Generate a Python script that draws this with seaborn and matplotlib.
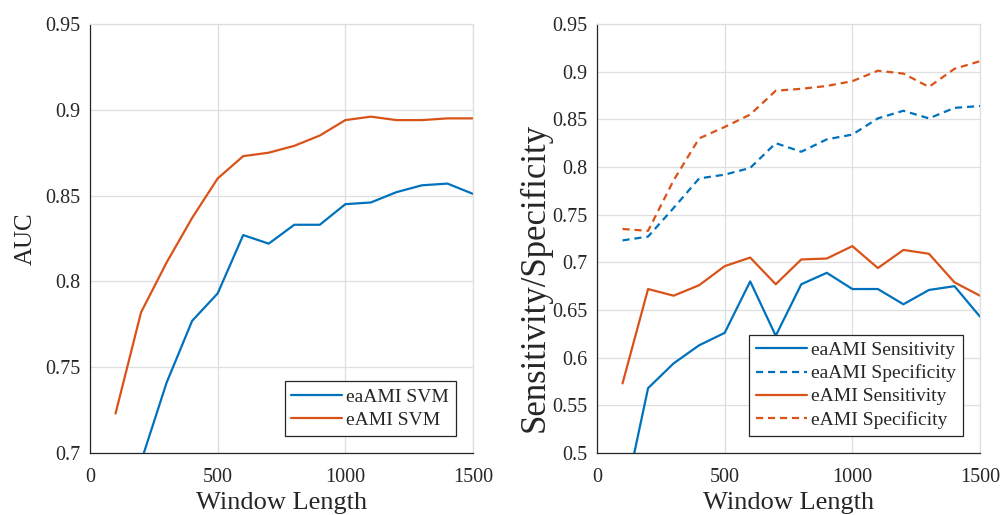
import matplotlib
matplotlib.use("Agg")
import matplotlib.pyplot as plt
import seaborn as sns
import pandas as pd

# ---------------- data ----------------
window = [100, 200, 300, 400, 500, 600, 700, 800, 900, 1000, 1100, 1200, 1300, 1400, 1500]

auc_eaami = [0.620, 0.695, 0.741, 0.777, 0.793, 0.827, 0.822, 0.833, 0.833, 0.845,
             0.846, 0.852, 0.856, 0.857, 0.851]
auc_eami = [0.723, 0.782, 0.811, 0.837, 0.860, 0.873, 0.875, 0.879, 0.885, 0.894,
            0.896, 0.894, 0.894, 0.895, 0.895]

sens_eaami = [0.442, 0.568, 0.594, 0.613, 0.626, 0.680, 0.623, 0.677, 0.689, 0.672,
              0.672, 0.656, 0.671, 0.675, 0.643]
spec_eaami = [0.723, 0.727, 0.757, 0.788, 0.792, 0.799, 0.825, 0.816, 0.829, 0.834,
              0.851, 0.859, 0.851, 0.862, 0.864]
sens_eami = [0.573, 0.672, 0.665, 0.676, 0.696, 0.705, 0.677, 0.703, 0.704, 0.717,
             0.694, 0.713, 0.709, 0.679, 0.665]
spec_eami = [0.735, 0.733, 0.786, 0.830, 0.842, 0.855, 0.880, 0.882, 0.885, 0.890,
             0.901, 0.898, 0.884, 0.903, 0.911]

left_labels = ["eaAMI SVM", "eAMI SVM"]
right_labels = ["eaAMI Sensitivity", "eaAMI Specificity", "eAMI Sensitivity", "eAMI Specificity"]

x_ticks = [0, 500, 1000, 1500]
x_tick_labels = ["0", "500", "1000", "1500"]
left_yticks = [0.7, 0.75, 0.8, 0.85, 0.9, 0.95]
left_ytick_labels = ["0.7", "0.75", "0.8", "0.85", "0.9", "0.95"]
right_yticks = [0.5, 0.55, 0.6, 0.65, 0.7, 0.75, 0.8, 0.85, 0.9, 0.95]
right_ytick_labels = ["0.5", "0.55", "0.6", "0.65", "0.7", "0.75", "0.8", "0.85", "0.9", "0.95"]

# ---------------- style ----------------
BLUE = "#0072BD"
ORANGE = "#D95319"
TXT = "#262626"

sns.set_theme(style="white")
plt.rcParams["font.family"] = ["Liberation Serif", "DejaVu Serif"]

df_left = pd.DataFrame({
    "Window": window * 2,
    "Value": auc_eaami + auc_eami,
    "Series": [left_labels[0]] * len(window) + [left_labels[1]] * len(window),
})
df_right = pd.DataFrame({
    "Window": window * 4,
    "Value": sens_eaami + spec_eaami + sens_eami + spec_eami,
    "Series": sum([[lab] * len(window) for lab in right_labels], []),
})

fig = plt.figure(figsize=(10.05, 5.15), dpi=100)
axL = fig.add_axes([90 / 1005, 62 / 515, 383 / 1005, 429 / 515])
axR = fig.add_axes([597 / 1005, 62 / 515, 383 / 1005, 429 / 515])

sns.lineplot(data=df_left, x="Window", y="Value", hue="Series", style="Series",
             palette={left_labels[0]: BLUE, left_labels[1]: ORANGE},
             dashes={left_labels[0]: "", left_labels[1]: ""},
             linewidth=1.6, ax=axL)

sns.lineplot(data=df_right, x="Window", y="Value", hue="Series", style="Series",
             palette={right_labels[0]: BLUE, right_labels[1]: BLUE,
                      right_labels[2]: ORANGE, right_labels[3]: ORANGE},
             dashes={right_labels[0]: "", right_labels[1]: (3.2, 2.2),
                     right_labels[2]: "", right_labels[3]: (3.2, 2.2)},
             linewidth=1.6, ax=axR)


def style_axes(ax, yticks, ylabels, ylim, ylabel, ylabel_size):
    ax.set_xlim(0, 1500)
    ax.set_ylim(*ylim)
    ax.set_xticks(x_ticks)
    ax.set_xticklabels(x_tick_labels)
    ax.set_yticks(yticks)
    ax.set_yticklabels(ylabels)
    ax.grid(True, color="#dfdfdf", linewidth=0.9)
    ax.set_axisbelow(True)
    ax.tick_params(axis="both", direction="in", length=4, width=0.8,
                   colors=TXT, labelsize=14.5, pad=7)
    ax.tick_params(axis="x", pad=10.5)
    for side in ["left", "bottom"]:
        ax.spines[side].set_color(TXT)
        ax.spines[side].set_linewidth(0.9)
    for side in ["top", "right"]:
        ax.spines[side].set_color("#dfdfdf")
        ax.spines[side].set_linewidth(0.9)
    ax.set_xlabel("Window Length", fontsize=19, color=TXT, labelpad=4)
    ax.set_ylabel(ylabel, fontsize=ylabel_size, color=TXT, labelpad=6)


style_axes(axL, left_yticks, left_ytick_labels, (0.7, 0.95), "AUC", 18)
style_axes(axR, right_yticks, right_ytick_labels, (0.5, 0.95), "Sensitivity/Specificity", 25)
axR.yaxis.set_label_coords(-0.118, 0.41)

for ax in (axL, axR):
    handles, labels = ax.get_legend_handles_labels()
    leg = ax.legend(handles, labels, loc="lower right", fontsize=14,
                    frameon=True, fancybox=False, framealpha=1,
                    edgecolor=TXT, borderpad=0.35, labelspacing=0.28,
                    handlelength=2.6, handletextpad=0.2, borderaxespad=0.9)
    leg.get_frame().set_linewidth(0.9)
    for line in leg.get_lines():
        line.set_linewidth(1.6)

fig.savefig("out.png", dpi=100, facecolor="white")
